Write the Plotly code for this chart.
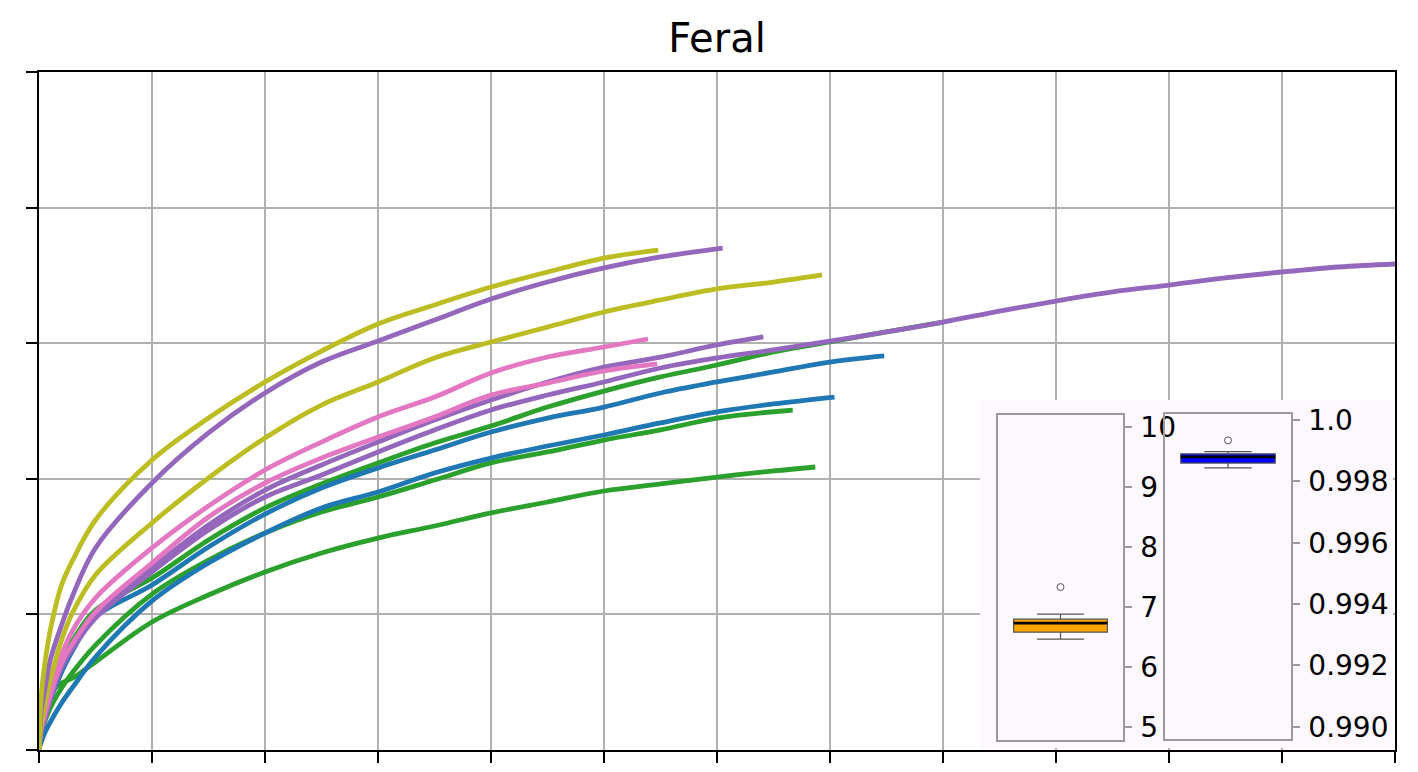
import plotly.graph_objects as go

# ---------------- data: accumulation curves (x: 0..1200, y: 0..500) ----------------
yellow_a_x = [0, 1, 2, 5, 10, 20, 30, 50, 100, 150, 200, 250, 300, 350, 400, 450, 500, 548]
yellow_a_y = [0, 25.8, 40.6, 62.7, 88.5, 121.7, 140.2, 169.6, 213.9, 244.8, 271.4, 294.2, 314.2, 328.2, 341.4, 352.5, 362.8, 368.7]

purple_b_x = [0, 1, 2, 5, 10, 20, 30, 50, 100, 150, 200, 250, 300, 350, 400, 450, 500, 550, 605]
purple_b_y = [0, 18.4, 29.5, 44.2, 66.4, 92.2, 114.3, 149.0, 196.9, 233.8, 263.3, 286.1, 301.6, 317.1, 332.6, 345.1, 355.5, 363.6, 370.2]

yellow_c_x = [0, 1, 2, 5, 10, 20, 30, 50, 100, 150, 200, 250, 300, 350, 400, 450, 500, 550, 600, 650, 693]
yellow_c_y = [0, 11.1, 18.4, 33.2, 51.6, 81.1, 101.8, 129.1, 167.4, 200.6, 230.1, 254.4, 271.4, 289.1, 300.9, 311.9, 323.0, 331.9, 340.0, 345.1, 350.3]

pink_1_x = [0, 1, 2, 5, 10, 20, 30, 50, 100, 150, 200, 250, 300, 350, 400, 450, 500, 539]
pink_1_y = [0, 13.3, 20.6, 29.5, 44.2, 70.1, 88.5, 112.1, 149.0, 179.9, 206.5, 227.1, 245.6, 260.3, 278.0, 289.8, 297.2, 303.1]

pink_2_x = [0, 1, 2, 5, 10, 20, 30, 50, 100, 150, 200, 250, 300, 350, 400, 450, 500, 547]
pink_2_y = [0, 11.1, 16.2, 25.8, 40.6, 64.2, 78.9, 101.8, 137.9, 171.8, 196.9, 215.3, 230.8, 245.6, 261.8, 270.6, 279.5, 284.7]

purple_3_x = [0, 1, 2, 5, 10, 20, 30, 50, 100, 150, 200, 250, 300, 350, 400, 450, 500, 550, 600, 641]
purple_3_y = [0, 9.6, 14.7, 24.3, 39.1, 62.7, 77.4, 99.6, 134.2, 165.9, 191.7, 210.2, 227.1, 243.4, 258.1, 271.4, 282.4, 289.8, 298.7, 304.6]

purple_long_x = [0, 1, 2, 5, 10, 20, 30, 50, 100, 150, 200, 250, 300, 350, 400, 450, 500, 550, 600, 650,
                 700, 750, 800, 850, 900, 950, 1000, 1050, 1100, 1150, 1200]
purple_long_y = [0, 8.8, 13.3, 22.1, 36.9, 60.5, 75.2, 97.3, 131.3, 162.2, 186.6, 202.8, 219.8, 236.0, 250.7, 261.8,
                 271.4, 281.7, 289.1, 295.0, 301.6, 308.3, 315.6, 323.7, 331.1, 337.8, 342.9, 348.1, 352.5, 356.2, 358.4]

green_1_x = [0, 1, 2, 5, 10, 20, 30, 50, 100, 150, 200, 250, 300, 350, 400, 450, 500, 550, 600, 650, 700, 750, 800]
green_1_y = [0, 13.3, 18.4, 31.0, 44.2, 66.4, 81.1, 103.2, 126.8, 154.9, 178.5, 196.2, 211.7, 226.4, 238.9, 252.9,
             264.7, 275.1, 283.9, 293.5, 300.9, 308.3, 315.6]

blue_1_x = [0, 1, 2, 5, 10, 20, 30, 50, 100, 150, 200, 250, 300, 350, 400, 450, 500, 550, 600, 650, 700, 748]
blue_1_y = [0, 8.8, 13.3, 23.6, 36.9, 57.5, 73.7, 98.1, 121.7, 149.7, 174.0, 193.2, 208.0, 221.2, 234.5, 244.8,
            252.9, 263.3, 271.4, 278.8, 286.1, 290.6]

blue_2_x = [0, 1, 2, 5, 10, 20, 30, 50, 100, 150, 200, 250, 300, 350, 400, 450, 500, 550, 600, 650, 704]
blue_2_y = [0, 3.7, 5.9, 12.5, 20.6, 34.7, 46.5, 68.6, 109.9, 137.9, 160.0, 178.5, 190.3, 204.3, 215.3, 224.2,
            232.3, 241.2, 249.3, 255.2, 260.3]

green_2_x = [0, 1, 2, 5, 10, 20, 30, 50, 100, 150, 200, 250, 300, 350, 400, 450, 500, 550, 600, 667]
green_2_y = [0, 8.8, 13.3, 20.6, 31.0, 45.7, 57.5, 77.4, 115.0, 140.1, 160.0, 175.5, 186.6, 199.1, 211.7, 219.8,
             228.6, 236.0, 244.8, 250.7]

green_3_x = [0, 1, 2, 5, 10, 20, 30, 50, 100, 150, 200, 250, 300, 350, 400, 450, 500, 550, 600, 650, 687]
green_3_y = [0, 18.4, 28.0, 36.9, 42.0, 49.4, 53.1, 64.9, 94.4, 114.3, 131.3, 145.3, 156.3, 165.2, 174.8, 182.9,
             191.0, 196.2, 201.3, 205.8, 208.7]

# ---------------- data: inset box plots ----------------
orange_stats = dict(q1=6.578, median=6.728, q3=6.795, lower=6.462, upper=6.878)
orange_outliers = [7.33]
orange_ticks = [5, 6, 7, 8, 9, 10]

blue_stats = dict(q1=0.99860, median=0.99880, q3=0.99890, lower=0.99844, upper=0.99897)
blue_outliers = [0.99934]
blue_ticks = [0.990, 0.992, 0.994, 0.996, 0.998, 1.0]
blue_ticktext = ["0.990", "0.992", "0.994", "0.996", "0.998", "1.0"]

TITLE = "Feral"

C_BLUE, C_GREEN, C_PURPLE, C_PINK, C_OLIVE = "#1f77b4", "#2ca02c", "#9467bd", "#e377c2", "#bcbd22"

curves = [
    (green_3_x, green_3_y, C_GREEN),
    (green_2_x, green_2_y, C_GREEN),
    (blue_2_x, blue_2_y, C_BLUE),
    (green_1_x, green_1_y, C_GREEN),
    (blue_1_x, blue_1_y, C_BLUE),
    (purple_long_x, purple_long_y, C_PURPLE),
    (purple_3_x, purple_3_y, C_PURPLE),
    (pink_2_x, pink_2_y, C_PINK),
    (pink_1_x, pink_1_y, C_PINK),
    (yellow_c_x, yellow_c_y, C_OLIVE),
    (purple_b_x, purple_b_y, C_PURPLE),
    (yellow_a_x, yellow_a_y, C_OLIVE),
]

W, H = 1418, 772
FONT = "DejaVu Sans"

fig = go.Figure()
for xs, ys, col in curves:
    fig.add_trace(go.Scatter(x=xs, y=ys, mode="lines", line=dict(color=col, width=4.8, shape="spline", smoothing=1.0),
                             xaxis="x", yaxis="y", showlegend=False, hoverinfo="skip"))

# lavender background panel behind the insets
fig.add_trace(go.Scatter(x=[0, 1, 1, 0, 0], y=[0, 0, 1, 1, 0], mode="lines", fill="toself",
                         fillcolor="#fcf8fd", line=dict(width=0, color="#fcf8fd"),
                         xaxis="x2", yaxis="y2", showlegend=False, hoverinfo="skip"))

BOX_W = 0.75


def add_box(stats, outliers, color, xa, ya):
    fig.add_trace(go.Box(x=[0], q1=[stats["q1"]], median=[stats["median"]], q3=[stats["q3"]],
                         lowerfence=[stats["lower"]], upperfence=[stats["upper"]],
                         width=BOX_W, whiskerwidth=0.5, fillcolor=color,
                         line=dict(color="#555555", width=1.2), boxpoints=False,
                         xaxis=xa, yaxis=ya, showlegend=False, hoverinfo="skip"))
    fig.add_trace(go.Scatter(x=[-BOX_W / 2, BOX_W / 2], y=[stats["median"]] * 2, mode="lines",
                             line=dict(color="black", width=2.8), xaxis=xa, yaxis=ya,
                             showlegend=False, hoverinfo="skip"))
    fig.add_trace(go.Scatter(x=[0] * len(outliers), y=outliers, mode="markers",
                             marker=dict(symbol="circle-open", size=7, color="#555555", line=dict(width=1)),
                             xaxis=xa, yaxis=ya, showlegend=False, hoverinfo="skip"))


add_box(orange_stats, orange_outliers, "#ffa500", "x3", "y3")
add_box(blue_stats, blue_outliers, "#0000ff", "x4", "y4")


def px_x(a, b):
    return [a / W, b / W]


def px_y(top, bottom):
    return [1 - bottom / H, 1 - top / H]


main_ax = dict(showgrid=True, gridcolor="#b0b0b0", gridwidth=2.4, showline=True, linecolor="black", linewidth=2.4,
               mirror=True, ticks="outside", ticklen=11, tickwidth=2.4, tickcolor="black",
               showticklabels=False, zeroline=False, tick0=0, dtick=100, automargin=False)

inset_x = dict(range=[-0.5, 0.5], showticklabels=False, ticks="", showgrid=False, zeroline=False,
               showline=True, mirror=True, linecolor="#9a9a9a", linewidth=1.5, fixedrange=True, automargin=False)

inset_y = dict(side="right", ticks="outside", ticklen=7, tickwidth=1.5, tickcolor="#9a9a9a",
               showline=True, mirror=True, linecolor="#9a9a9a", linewidth=1.5, showgrid=False,
               zeroline=False, tickfont=dict(family=FONT, size=28, color="black"), ticklabelstandoff=3,
               automargin=False)

fig.update_layout(
    width=W, height=H,
    margin=dict(l=0, r=0, t=0, b=0, pad=0, autoexpand=False),
    paper_bgcolor="white", plot_bgcolor="rgba(0,0,0,0)",
    title=dict(text=TITLE, x=717 / W, xanchor="center", y=1 - 38 / H, yanchor="middle",
               font=dict(family=FONT, size=40, color="black"), automargin=False),
    xaxis=dict(domain=px_x(39, 1395), range=[0, 1200], anchor="y", **main_ax),
    yaxis=dict(domain=px_y(72, 750), range=[0, 500], anchor="x", **main_ax),
    xaxis2=dict(domain=px_x(980, 1393), range=[0, 1], visible=False, anchor="y2", automargin=False),
    yaxis2=dict(domain=px_y(400, 748), range=[0, 1], visible=False, anchor="x2", automargin=False),
    xaxis3=dict(domain=px_x(998, 1123), anchor="y3", **inset_x),
    yaxis3=dict(domain=px_y(415, 740), range=[4.78, 10.2], tickvals=orange_ticks, anchor="x3", **inset_y),
    xaxis4=dict(domain=px_x(1165, 1291), anchor="y4", **inset_x),
    yaxis4=dict(domain=px_y(414, 739), range=[0.9896, 1.0002], tickvals=blue_ticks, ticktext=blue_ticktext,
                anchor="x4", **inset_y),
)

fig.write_html("out.html")
